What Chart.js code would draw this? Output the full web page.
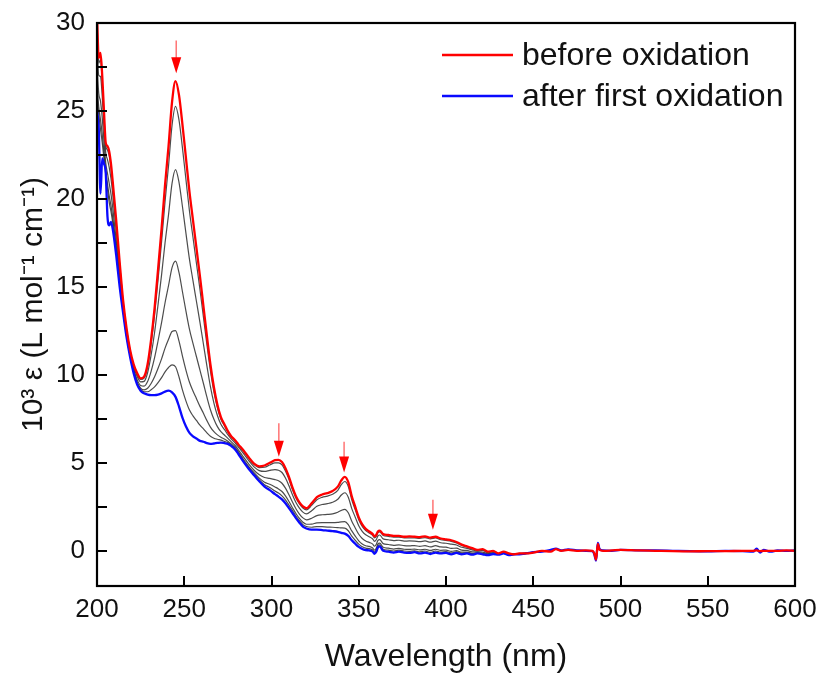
<!DOCTYPE html>
<html>
<head>
<meta charset="utf-8">
<script src="https://cdn.jsdelivr.net/npm/chart.js@4.4.1/dist/chart.umd.min.js"></script>
<style>
  html, body { margin: 0; padding: 0; background: #fff; }
  #wrap { width: 820px; height: 677px; }
</style>
</head>
<body>
<div id="wrap"><canvas id="c" width="820" height="677"></canvas></div>
<script>
// ---------- data ----------
const wavelengths = [
  200,201,202,203,204,205,206,207,208,209,
  211,213,215,217,219,221,223,225,227,229,
  231,233,235,237,239,241,243,245,247,249,
  251,253,255,257,259,261,263,265,267,269,
  271,273,275,277,279,281,284,287,290,293,
  296,299,302,304,306,308,310,312,314,316,
  318,320,323,326,329,332,335,338,340,342,
  344,346,348,350,352,354,356,358,359,360,
  361,362,364,367,370,373,376,379,382,385,
  388,391,394,397,400,403,406,409,412,415,
  418,421,424,427,430,433,436,439,442,446,
  450,
  455,460,463,466,470,475,480,484,485,486,
  487,488,490,495,500,510,520,530,540,550,
  560,570,576,578,580,582,586,590,595,600
];

const beforeOxidation = [
  30.5,28.0,28.3,27.0,25.0,23.2,23.0,22.7,22.0,21.0,
  18.8,16.4,14.2,12.6,11.4,10.6,10.1,9.8,9.9,10.6,
  12.0,13.8,16.0,18.3,20.8,23.0,25.5,26.7,25.9,24.2,
  22.3,20.4,18.8,17.2,15.6,13.9,12.2,10.6,9.3,8.3,
  7.6,7.2,6.8,6.5,6.3,6.05,5.7,5.3,4.95,4.8,
  4.85,5.0,5.15,5.17,5.05,4.7,4.2,3.6,3.1,2.75,
  2.52,2.42,2.7,3.05,3.2,3.28,3.4,3.65,4.0,4.2,
  3.9,3.1,2.5,1.9,1.5,1.25,1.1,0.95,0.82,0.9,
  1.1,1.15,0.95,0.9,0.85,0.85,0.8,0.82,0.8,0.78,
  0.82,0.75,0.8,0.7,0.65,0.6,0.5,0.35,0.25,0.15,
  0.05,0.1,-0.05,0.0,-0.15,-0.05,-0.15,-0.2,-0.15,-0.15,
  -0.1,
  0.0,-0.05,0.1,0.0,0.05,0.0,0.02,0.0,-0.15,-0.5,
  0.4,0.05,0.0,0.02,0.05,0.02,0.0,-0.02,-0.03,-0.02,
  -0.02,0.0,0.0,0.02,-0.02,0.0,0.0,0.0,0.02,0.0
];

const afterFirstOxidation = [
  25.0,24.0,20.3,22.3,22.0,21.5,19.0,18.5,18.7,18.3,
  16.8,15.0,13.5,12.1,11.0,10.1,9.45,9.1,8.95,8.88,
  8.85,8.85,8.88,8.95,9.05,9.1,9.0,8.75,8.2,7.55,
  7.06,6.7,6.5,6.38,6.25,6.2,6.12,6.08,6.1,6.13,
  6.15,6.12,6.08,5.95,5.78,5.5,5.05,4.65,4.3,3.95,
  3.65,3.45,3.22,3.08,2.92,2.7,2.43,2.15,1.86,1.6,
  1.38,1.27,1.2,1.2,1.18,1.15,1.12,1.08,1.02,0.98,
  0.85,0.6,0.4,0.22,0.1,0.04,0.02,-0.05,-0.17,-0.05,
  0.2,0.25,0.0,-0.05,-0.1,-0.05,-0.1,-0.12,-0.08,-0.15,
  -0.1,-0.18,-0.1,-0.15,-0.12,-0.2,-0.12,-0.2,-0.15,-0.22,
  -0.15,-0.2,-0.25,-0.18,-0.22,-0.15,-0.25,-0.2,-0.2,-0.15,
  -0.08,
  -0.05,0.05,0.12,0.02,0.08,0.03,0.0,-0.02,-0.2,-0.55,
  0.45,0.1,0.02,0.0,0.05,0.03,0.02,0.0,-0.02,-0.03,
  0.0,-0.02,-0.05,0.12,-0.1,0.05,-0.05,0.02,0.0,0.02
];

// intermediate spectra (200–450 nm)
const step1 = [
  30.1,27.72,27.92,26.66,24.76,23.04,22.78,22.44,21.76,20.79,
  18.64,16.29,14.14,12.56,11.37,10.56,10.05,9.74,9.82,10.46,
  11.75,13.4,15.43,17.55,19.86,21.89,24.18,25.26,24.48,22.87,
  21.08,19.3,17.82,16.33,14.85,13.28,11.71,10.24,9.04,8.13,
  7.48,7.11,6.74,6.46,6.26,6.01,5.65,5.25,4.9,4.73,
  4.75,4.88,5.0,5.0,4.88,4.54,4.06,3.48,3.0,2.66,
  2.43,2.33,2.58,2.9,3.04,3.11,3.22,3.44,3.76,3.94,
  3.66,2.9,2.33,1.77,1.39,1.15,1.01,0.87,0.74,0.82,
  1.03,1.08,0.87,0.82,0.77,0.78,0.73,0.74,0.73,0.71,
  0.75,0.68,0.73,0.63,0.59,0.54,0.45,0.31,0.22,0.12,
  0.03,0.08,-0.07,-0.01,-0.16,-0.06,-0.16,-0.2,-0.15,-0.15,
  -0.1
];
const step2 = [
  29.1,27.02,26.96,25.82,24.16,22.64,22.24,21.8,21.16,20.27,
  18.24,16.01,14.0,12.46,11.29,10.46,9.92,9.6,9.63,10.12,
  11.12,12.41,14.01,15.68,17.51,19.11,20.88,21.67,20.94,19.54,
  18.03,16.56,15.36,14.17,12.98,11.74,10.5,9.33,8.4,7.69,
  7.19,6.9,6.6,6.35,6.15,5.9,5.52,5.12,4.77,4.56,
  4.51,4.57,4.61,4.58,4.45,4.14,3.7,3.19,2.75,2.43,
  2.2,2.1,2.28,2.53,2.63,2.68,2.76,2.93,3.17,3.3,
  3.05,2.4,1.91,1.43,1.11,0.91,0.8,0.67,0.54,0.63,
  0.85,0.9,0.68,0.63,0.58,0.6,0.55,0.56,0.55,0.52,
  0.56,0.49,0.55,0.46,0.43,0.38,0.33,0.2,0.14,0.05,
  -0.01,0.02,-0.11,-0.05,-0.17,-0.08,-0.18,-0.2,-0.16,-0.15,
  -0.09
];
const step3 = [
  27.65,26.0,25.56,24.61,23.29,22.06,21.46,20.88,20.29,19.52,
  17.66,15.6,13.8,12.32,11.17,10.32,9.73,9.4,9.36,9.62,
  10.2,10.98,11.94,12.97,14.1,15.08,16.1,16.47,15.81,14.71,
  13.61,12.59,11.79,11.03,10.27,9.51,8.73,8.02,7.48,7.06,
  6.77,6.58,6.39,6.19,6.0,5.74,5.33,4.93,4.58,4.32,
  4.17,4.12,4.05,3.98,3.84,3.56,3.19,2.77,2.39,2.09,
  1.87,1.76,1.85,2.0,2.05,2.07,2.1,2.19,2.3,2.36,
  2.16,1.68,1.3,0.94,0.7,0.56,0.48,0.38,0.26,0.36,
  0.59,0.64,0.41,0.36,0.31,0.34,0.29,0.28,0.3,0.25,
  0.3,0.22,0.29,0.22,0.21,0.14,0.15,0.04,0.02,-0.06,
  -0.06,-0.07,-0.16,-0.1,-0.19,-0.11,-0.21,-0.2,-0.18,-0.15,
  -0.09
];
const step4 = [
  26.55,25.24,24.51,23.68,22.63,21.62,20.87,20.17,19.63,18.95,
  17.22,15.29,13.65,12.21,11.08,10.21,9.59,9.25,9.15,9.24,
  9.51,9.89,10.38,10.91,11.52,12.02,12.47,12.52,11.92,11.05,
  10.26,9.58,9.08,8.65,8.21,7.82,7.4,7.03,6.77,6.59,
  6.45,6.35,6.23,6.07,5.89,5.62,5.19,4.79,4.44,4.13,
  3.9,3.78,3.63,3.52,3.37,3.12,2.8,2.45,2.12,1.84,
  1.62,1.51,1.52,1.59,1.6,1.6,1.6,1.62,1.65,1.66,
  1.49,1.13,0.84,0.57,0.39,0.29,0.25,0.16,0.04,0.15,
  0.39,0.44,0.2,0.15,0.1,0.14,0.09,0.08,0.1,0.05,
  0.09,0.02,0.09,0.03,0.04,-0.03,0.01,-0.08,-0.07,-0.14,
  -0.11,-0.14,-0.21,-0.14,-0.21,-0.13,-0.23,-0.2,-0.19,-0.15,
  -0.08
];
const step5 = [
  25.98,24.83,23.96,23.2,22.29,21.39,20.56,19.8,19.29,18.65,
  16.99,15.13,13.57,12.15,11.04,10.15,9.51,9.17,9.04,9.04,
  9.15,9.32,9.56,9.84,10.17,10.42,10.57,10.46,9.88,9.13,
  8.51,8.0,7.67,7.41,7.14,6.93,6.7,6.51,6.4,6.34,
  6.29,6.22,6.15,6.0,5.83,5.55,5.11,4.71,4.36,4.03,
  3.76,3.6,3.4,3.28,3.12,2.89,2.6,2.29,1.98,1.71,
  1.49,1.38,1.34,1.38,1.37,1.35,1.34,1.32,1.3,1.29,
  1.14,0.84,0.6,0.38,0.23,0.15,0.12,0.05,-0.08,0.04,
  0.29,0.34,0.09,0.04,-0.01,0.04,-0.01,-0.03,0.0,-0.06,
  -0.01,-0.09,-0.01,-0.07,-0.05,-0.12,-0.06,-0.15,-0.11,-0.18,
  -0.13,-0.17,-0.23,-0.16,-0.21,-0.14,-0.24,-0.2,-0.2,-0.15,
  -0.08
];

// decrease arrows (wavelength, arrow tail value, arrow tip value)
const arrowWavelengths = [245.4, 304.2, 341.6, 392.5];
const arrowTails = [29.0, 7.25, 6.2, 2.9];
const arrowTips = [27.15, 5.35, 4.45, 1.2];

// axis ticks
const xTicks = [200, 250, 300, 350, 400, 450, 500, 550, 600];
const yMajorTicks = [0, 5, 10, 15, 20, 25, 30];
const yMinorTicks = [2.5, 7.5, 12.5, 17.5, 22.5, 27.5];

const seriesLabels = ['before oxidation', 'after first oxidation'];
const xTitle = 'Wavelength (nm)';
const yTitle = '10³ ε (L mol⁻¹ cm⁻¹)';

// ---------- chart ----------
const FONT = "'Liberation Sans', Arial, Helvetica, sans-serif";
const toPoints = vals => vals.map((v, i) => ({ x: wavelengths[i], y: v }));

const grayStyle = {
  borderColor: 'rgba(45,45,45,0.85)', borderWidth: 1.2, pointRadius: 0,
  cubicInterpolationMode: 'monotone', fill: false, order: 3
};

const datasets = [
  { label: seriesLabels[0], data: toPoints(beforeOxidation), borderColor: '#ff0000',
    borderWidth: 2.3, pointRadius: 0, cubicInterpolationMode: 'monotone', fill: false, order: 1 },
  { label: seriesLabels[1], data: toPoints(afterFirstOxidation), borderColor: '#0a0aff',
    borderWidth: 2.3, pointRadius: 0, cubicInterpolationMode: 'monotone', fill: false, order: 2 },
  Object.assign({ label: 's1', data: toPoints(step1) }, grayStyle),
  Object.assign({ label: 's2', data: toPoints(step2) }, grayStyle),
  Object.assign({ label: 's3', data: toPoints(step3) }, grayStyle),
  Object.assign({ label: 's4', data: toPoints(step4) }, grayStyle),
  Object.assign({ label: 's5', data: toPoints(step5) }, grayStyle)
];

const decorPlugin = {
  id: 'decor',
  afterDatasetsDraw(chart) {
    const { ctx, chartArea: a, scales: { x, y } } = chart;
    ctx.save();
    // inward ticks
    ctx.strokeStyle = '#000';
    ctx.lineWidth = 2;
    ctx.beginPath();
    x.ticks.forEach(t => {
      const px = Math.round(x.getPixelForValue(t.value));
      ctx.moveTo(px, a.bottom); ctx.lineTo(px, a.bottom - 10);
    });
    y.ticks.forEach(t => {
      const py = Math.round(y.getPixelForValue(t.value));
      ctx.moveTo(a.left, py); ctx.lineTo(a.left + 10, py);
    });
    ctx.stroke();
    // frame
    ctx.lineWidth = 2.2;
    ctx.strokeRect(a.left, a.top, a.right - a.left, a.bottom - a.top);

    // arrows
    arrowWavelengths.forEach((w, i) => {
      const px = x.getPixelForValue(w);
      const pTail = y.getPixelForValue(arrowTails[i]);
      const pTip = y.getPixelForValue(arrowTips[i]);
      const headLen = Math.min(16, (pTip - pTail) * 0.55);
      ctx.strokeStyle = 'rgba(255,0,0,0.55)';
      ctx.lineWidth = 1.5;
      ctx.beginPath();
      ctx.moveTo(px, pTail); ctx.lineTo(px, pTip - headLen + 1);
      ctx.stroke();
      ctx.fillStyle = '#ff0000';
      ctx.beginPath();
      ctx.moveTo(px - 5, pTip - headLen);
      ctx.lineTo(px + 5, pTip - headLen);
      ctx.lineTo(px, pTip);
      ctx.closePath();
      ctx.fill();
    });

    // legend
    const items = [chart.data.datasets[0], chart.data.datasets[1]];
    ctx.font = '32px ' + FONT;
    ctx.textBaseline = 'middle';
    ctx.textAlign = 'left';
    items.forEach((ds, i) => {
      const yy = a.top + 32 + i * 41;
      const x0 = a.right - 353;
      ctx.strokeStyle = ds.borderColor;
      ctx.lineWidth = 2.3;
      ctx.beginPath();
      ctx.moveTo(x0, yy); ctx.lineTo(x0 + 71, yy);
      ctx.stroke();
      ctx.fillStyle = '#111';
      ctx.fillText(ds.label, x0 + 80, yy + 1);
    });
    ctx.restore();
  }
};

new Chart(document.getElementById('c'), {
  type: 'line',
  data: { datasets },
  options: {
    responsive: false,
    animation: false,
    devicePixelRatio: 1,
    layout: { padding: { top: 23, right: 25, left: 0, bottom: 0 } },
    plugins: { legend: { display: false }, tooltip: { enabled: false } },
    scales: {
      x: {
        type: 'linear', min: 200, max: 600,
        afterBuildTicks: s => { s.ticks = xTicks.map(v => ({ value: v })); },
        afterFit: s => { s.height = 91; s.paddingLeft = 0; s.paddingRight = 0; },
        grid: { display: false, drawTicks: false },
        border: { display: false },
        ticks: { color: '#111', font: { family: FONT, size: 26 }, padding: 8, maxRotation: 0,
                 callback: v => String(v) },
        title: { display: true, text: xTitle, color: '#111',
                 font: { family: FONT, size: 32 }, padding: { top: 0, bottom: 1 } }
      },
      y: {
        type: 'linear', min: -2, max: 30,
        afterBuildTicks: s => {
          s.ticks = yMajorTicks.concat(yMinorTicks).sort((p, q) => p - q).map(v => ({ value: v }));
        },
        afterFit: s => { s.width = 97; s.paddingTop = 0; s.paddingBottom = 0; },
        grid: { display: false, drawTicks: false },
        border: { display: false },
        ticks: { color: '#111', font: { family: FONT, size: 26 }, padding: 12,
                 callback: v => (yMajorTicks.includes(v) ? String(v) : '') },
        title: { display: true, text: yTitle, color: '#111',
                 font: { family: FONT, size: 30 }, padding: { top: 16, bottom: 0 } }
      }
    }
  },
  plugins: [decorPlugin]
});
</script>
</body>
</html>
